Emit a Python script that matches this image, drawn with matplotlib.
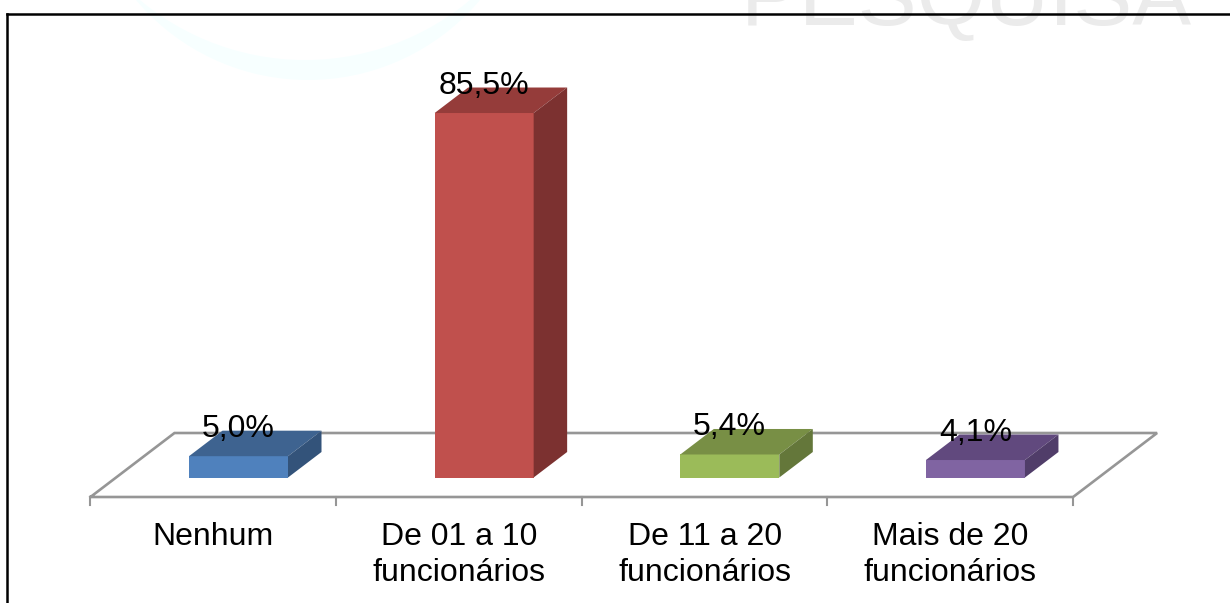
import matplotlib
matplotlib.use('Agg')
import matplotlib.pyplot as plt
from matplotlib.patches import Polygon, Rectangle, Ellipse

categorias = ['Nenhum', 'De 01 a 10\nfuncionários', 'De 11 a 20\nfuncionários', 'Mais de 20\nfuncionários']
valores = [5.0, 85.5, 5.4, 4.1]
rotulos = ['5,0%', '85,5%', '5,4%', '4,1%']
cor_frente = ['#4f81bd', '#c0504d', '#9bbb59', '#8064a2']
cor_topo = ['#3e6390', '#953c3a', '#788f45', '#61497e']
cor_lado = ['#33537a', '#7c3130', '#64773a', '#503d69']

W, H = 1230, 603
PX_X = 245.65   # pixels por categoria
PX_Y = 4.263    # pixels por ponto percentual
X0, Y0 = 213.3, 477.5


def px(x, y):
    # converte posicao em pixels para as unidades dos eixos
    return (x - X0) / PX_X, (Y0 - y) / PX_Y


plt.rcParams['font.family'] = ['Liberation Sans', 'DejaVu Sans']

fig = plt.figure(figsize=(W / 100, H / 100), dpi=100, facecolor='white')
ax = fig.add_axes([0, 0, 1, 1])
ax.set_xlim(-X0 / PX_X, (W - X0) / PX_X)
ax.set_ylim(-(H - Y0) / PX_Y, Y0 / PX_Y)
ax.axis('off')

# marca d'agua: arco claro e texto cortado no topo
ax.add_patch(Ellipse(px(308, -145), 450 / PX_X, 450 / PX_Y, fc='#f7ffff', ec='none', zorder=0))
ax.add_patch(Ellipse(px(305, -197), 514 / PX_X, 514 / PX_Y, fc='white', ec='none', zorder=0.5))
ax.text(*px(741, 25), 'PESQUISA', ha='left', va='baseline', fontsize=63.5, color='#ebebeb', zorder=1)

# deslocamento da perspectiva, em unidades dos eixos
dx = 33.5 / PX_X
dy = 25.5 / PX_Y
larg = 99 / PX_X
centro = 25.2 / PX_X

# piso do grafico
esq = -0.5
dir_ = 3.5
frente = -19.5 / PX_Y
fundo = 44.5 / PX_Y
recuo = 84 / PX_X
ax.plot([esq, dir_, dir_ + recuo, esq + recuo, esq], [frente, frente, fundo, fundo, frente],
        color='#969696', lw=1.9, zorder=2, solid_joinstyle='miter')
for i in range(5):
    ax.plot([esq + i, esq + i], [frente, frente - 8 / PX_Y], color='#969696', lw=1.5, zorder=2)

for i, v in enumerate(valores):
    x1 = i + centro - larg / 2
    x2 = x1 + larg
    ax.add_patch(Rectangle((x1, 0), larg, v, fc=cor_frente[i], ec='none', zorder=3))
    ax.add_patch(Polygon([(x1, v), (x2, v), (x2 + dx, v + dy), (x1 + dx, v + dy)],
                         fc=cor_topo[i], ec='none', zorder=3))
    ax.add_patch(Polygon([(x2, 0), (x2 + dx, dy), (x2 + dx, v + dy), (x2, v)],
                         fc=cor_lado[i], ec='none', zorder=3))
    ax.text(i + 25 / PX_X, v + 27.5 / PX_Y, rotulos[i], ha='center', va='center', fontsize=23, color='black', zorder=5)
    ax.text(i, frente - 25 / PX_Y, categorias[i], ha='center', va='top', fontsize=23, color='black',
            linespacing=1.27, zorder=5)

# moldura
x_m, y_m = px(7.5, 14)
y_base = -(H - Y0) / PX_Y
x_fim = (W - X0) / PX_X
ax.plot([x_m, x_m], [y_base, y_m], color='black', lw=1.8, zorder=6, solid_capstyle='projecting')
ax.plot([x_m, x_fim], [y_m, y_m], color='black', lw=1.8, zorder=6, solid_capstyle='projecting')

plt.savefig('out.png', dpi=100)
